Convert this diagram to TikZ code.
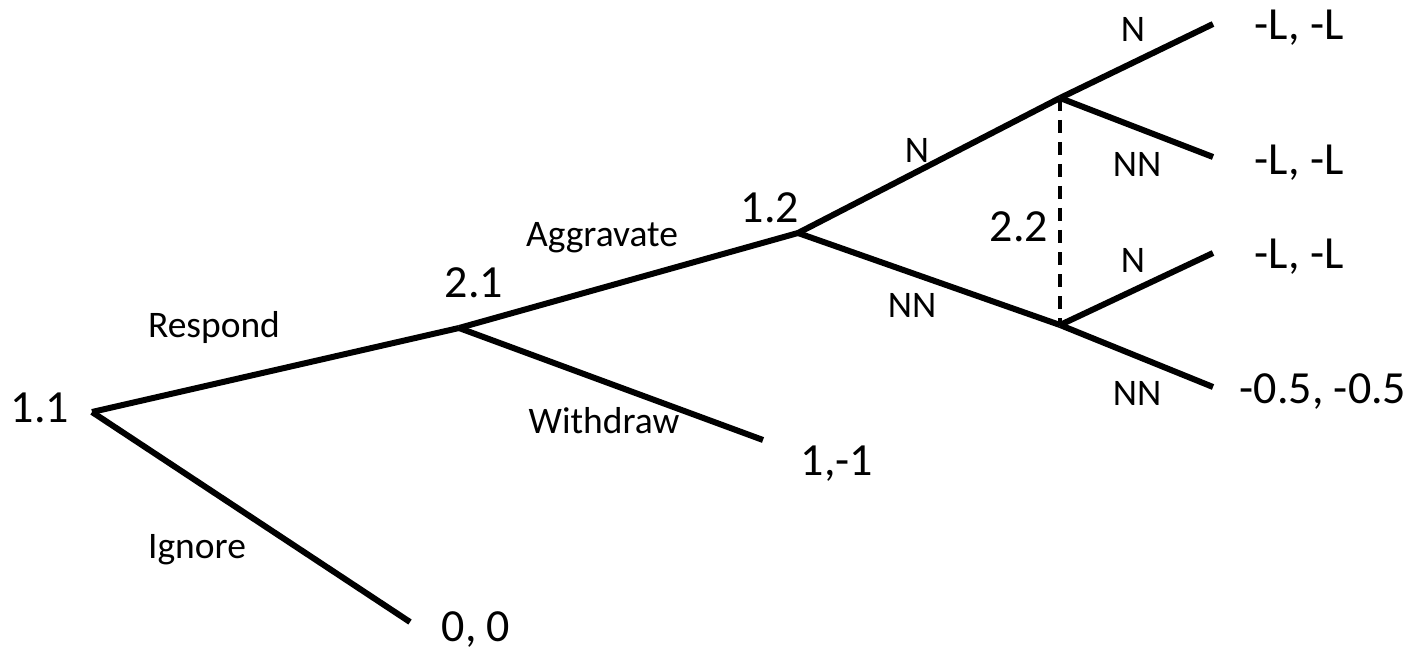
\documentclass[tikz,border=0pt]{standalone}
\usepackage{fontspec}
\setmainfont{Carlito}
\begin{document}
\begin{tikzpicture}[x=1pt,y=-1pt,
  edge/.style={line width=6pt,line cap=butt,line join=miter},
  info/.style={line width=4pt,dash pattern=on 13pt off 9pt},
  lab/.style={inner sep=0pt,anchor=base,font=\fontsize{37.5}{42}\selectfont},
  num/.style={inner sep=0pt,anchor=base,font=\fontsize{46}{50}\selectfont}]
\useasboundingbox (0,0) rectangle (1420,652);
% decision points and ends
\coordinate (n11) at (92,412);
\coordinate (n21) at (459,328);
\coordinate (ig) at (410,622);
\coordinate (wd) at (763,440);
\coordinate (n12) at (798,233);
\coordinate (u22) at (1060,98);
\coordinate (l22) at (1060,325);
\coordinate (t1) at (1213,24);
\coordinate (t2) at (1213,157);
\coordinate (t3) at (1213,253);
\coordinate (t4) at (1213,387);
% edges
\draw[edge] (n11) -- (n21);
\draw[edge] (n11) -- (ig);
\draw[edge] (n21) -- (wd);
\draw[edge] (n21) -- (n12);
\draw[edge] (n12) -- (u22);
\draw[edge] (n12) -- (l22);
\draw[edge] (u22) -- (t1);
\draw[edge] (u22) -- (t2);
\draw[edge] (l22) -- (t3);
\draw[edge] (l22) -- (t4);
\draw[info] (u22) -- (l22);
% node labels
\node[num] (L11) at (40,422) {1.1};
\node[num] (L21) at (474,297) {2.1};
\node[num] (L12) at (770,223) {1.2};
\node[num] (L22) at (1019,242) {2.2};
% action labels
\node[lab] (aR) at (214,337) {Respond};
\node[lab] (aI) at (197,558) {Ignore};
\node[lab] (aA) at (602,247) {Aggravate};
\node[lab] (aW) at (604,433) {Withdraw};
\node[lab] (aN) at (917,163) {N};
\node[lab] (aNN) at (912,317) {NN};
\node[lab] (aN1) at (1133,42) {N};
\node[lab] (aNN1) at (1137,177) {NN};
\node[lab] (aN2) at (1133,272) {N};
\node[lab] (aNN2) at (1137,405) {NN};
% payoffs
\node[num] (p1) at (476,641) {0, 0};
\node[num] (p2) at (837,475) {1,-1};
\node[num] (p3) at (1299,40) {-L, -L};
\node[num] (p4) at (1299,175) {-L, -L};
\node[num] (p5) at (1299,268) {-L, -L};
\node[num] (p6) at (1323,403) {-0.5, -0.5};
\end{tikzpicture}
\end{document}
